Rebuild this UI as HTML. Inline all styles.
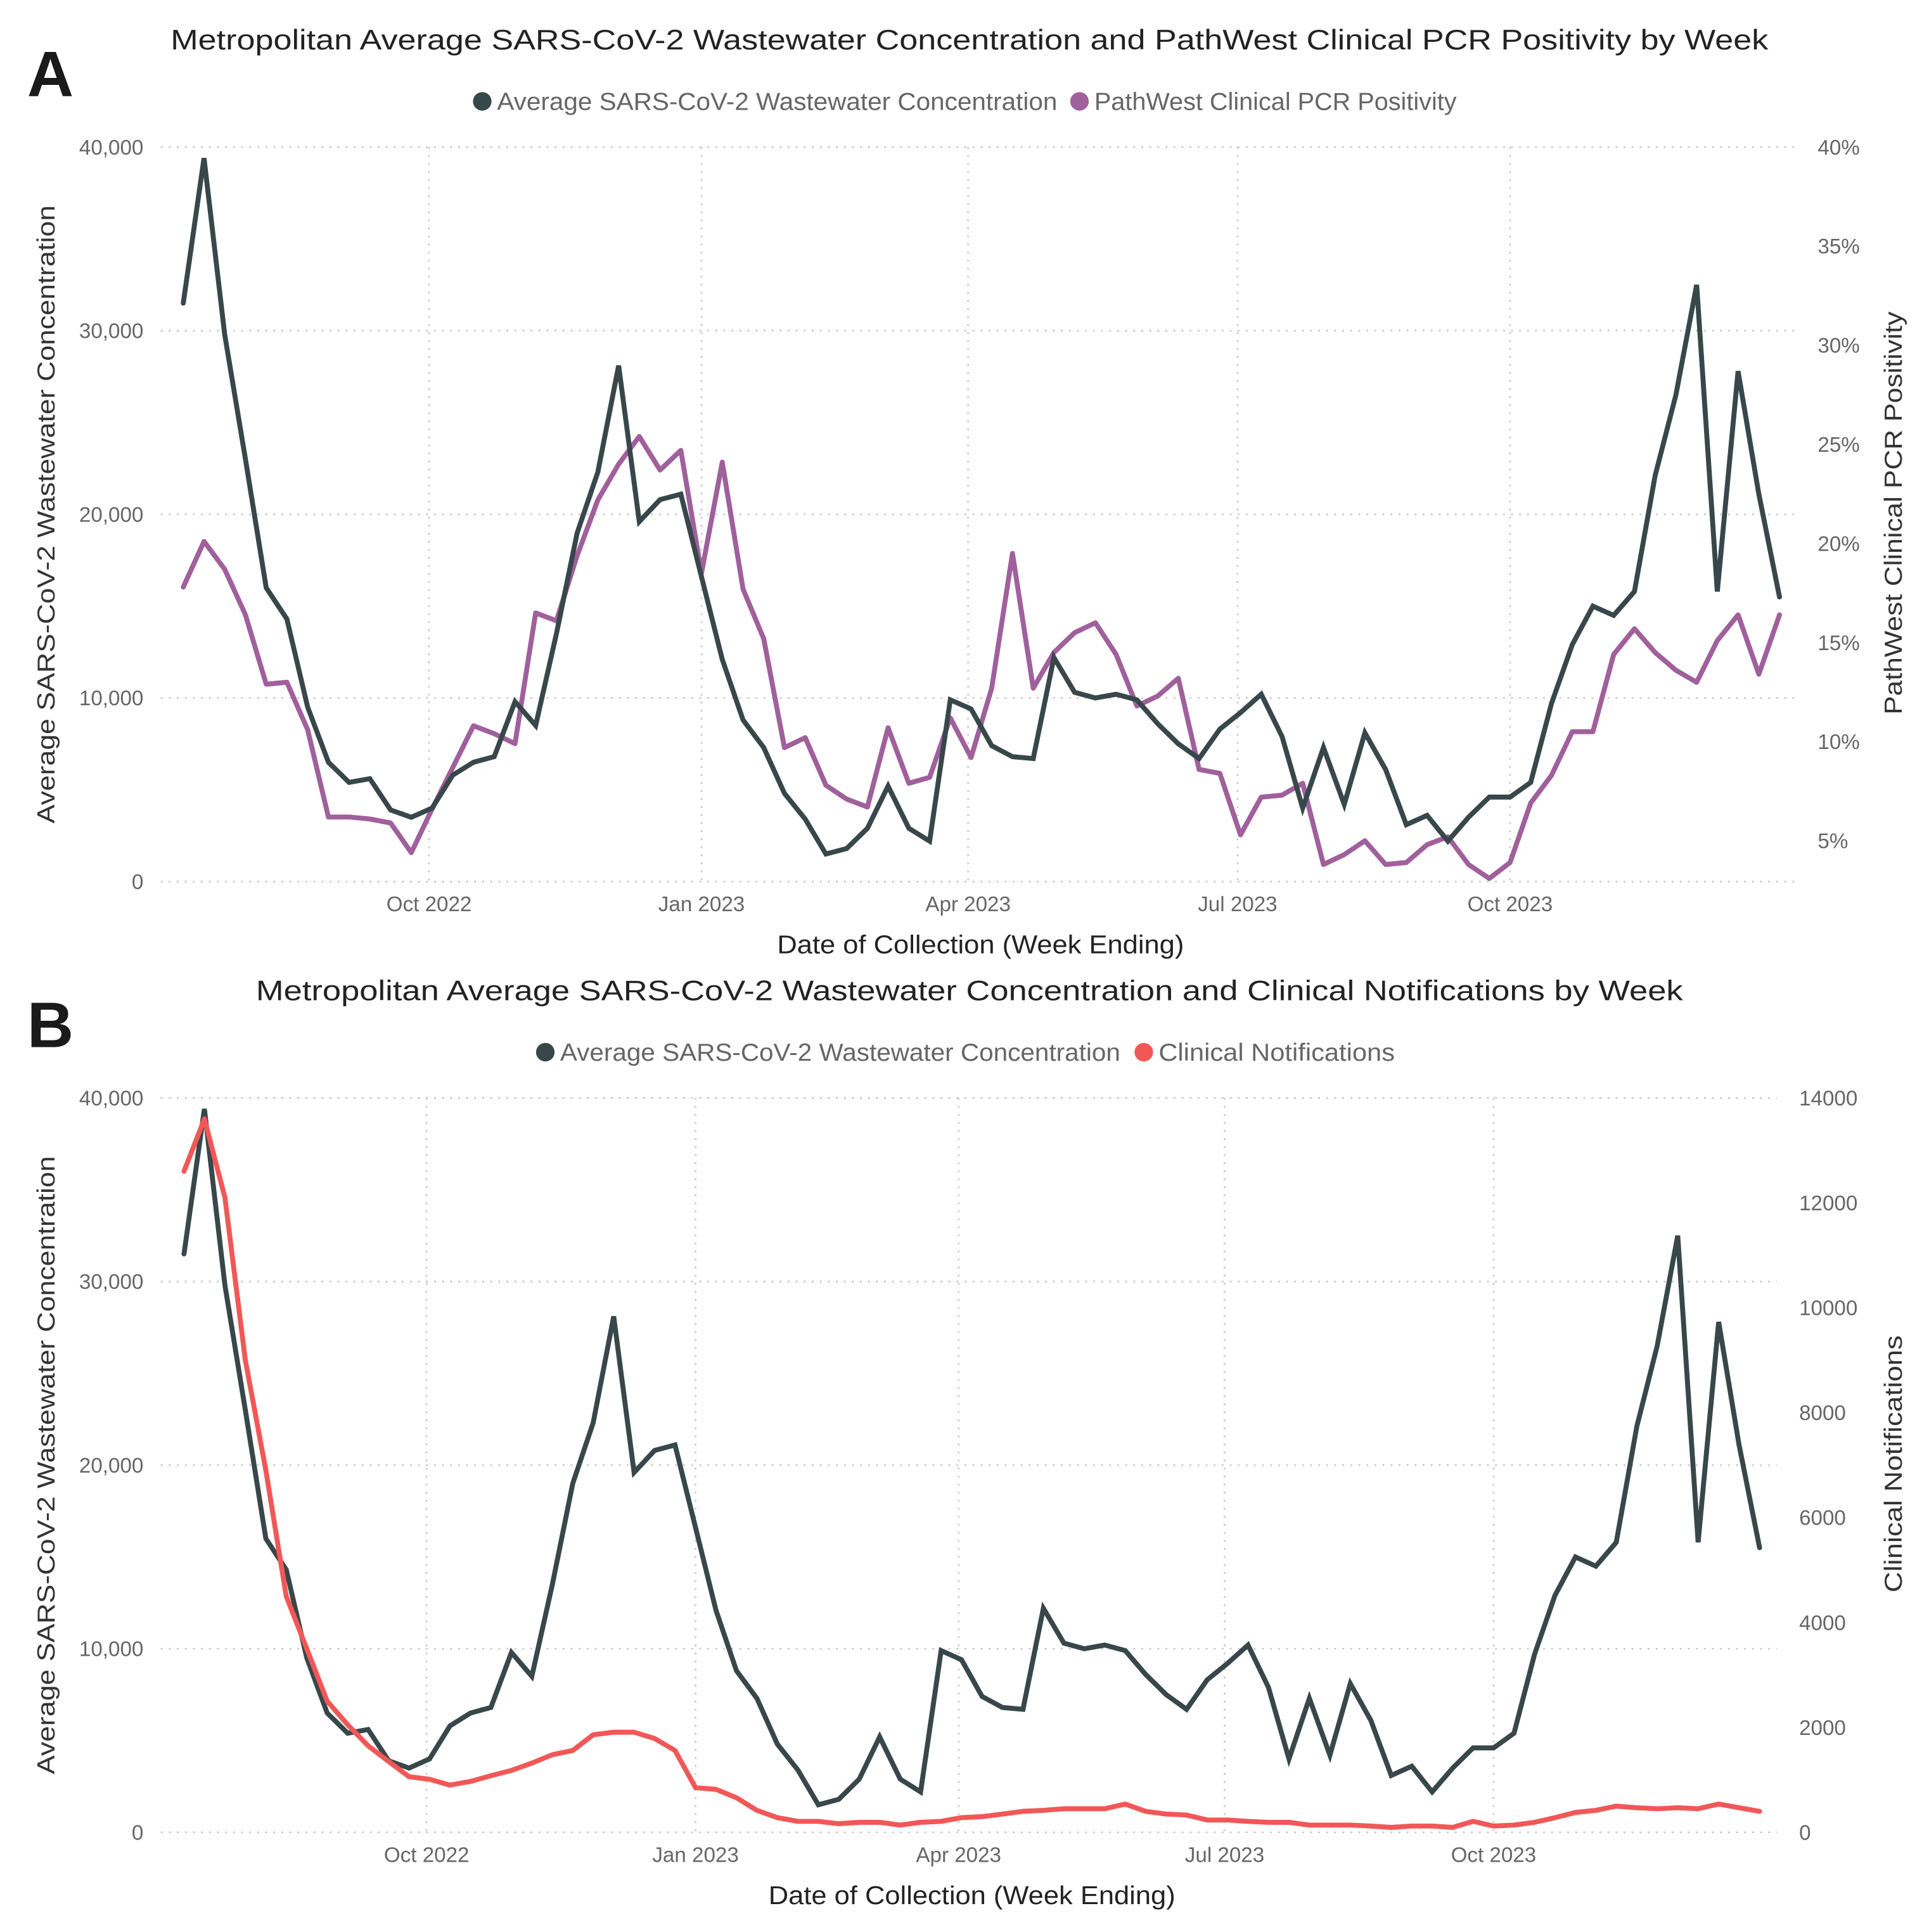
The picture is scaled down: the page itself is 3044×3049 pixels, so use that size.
<!DOCTYPE html>
<html><head><meta charset="utf-8"><style>
html,body{margin:0;padding:0;background:#fff;}
svg{display:block;}
text{font-family:"Liberation Sans",sans-serif;}
</style></head><body>
<svg id="root" xmlns="http://www.w3.org/2000/svg" width="3044" height="3049" viewBox="0 0 1560 1562.6" preserveAspectRatio="none"></svg>
<script>
// ---- data ----
const weekIndex = Array.from({length:78},(_,i)=>i); // weekly points
const firstDay = -83; // days relative to 1 Oct 2022
const wastewater = [31500,39400,29800,23000,16000,14300,9500,6500,5400,5600,3900,3500,4000,5800,6500,6800,9800,8500,13500,19000,22300,28100,19600,20800,21100,16600,12100,8800,7300,4800,3400,1500,1800,2900,5200,2900,2200,9900,9400,7400,6800,6700,12200,10300,10000,10200,9900,8600,7500,6700,8300,9200,10200,7900,4000,7300,4200,8100,6100,3100,3600,2200,3500,4600,4600,5400,9700,12900,15000,14500,15800,22100,26500,32500,15800,27800,21100,15500];
const pcrPositivity = [17.8,20.1,18.7,16.4,12.9,13.0,10.6,6.2,6.2,6.1,5.9,4.4,6.6,8.7,10.8,10.4,9.9,16.5,16.1,19.4,22.2,24.0,25.4,23.7,24.7,18.5,24.1,17.7,15.2,9.7,10.2,7.8,7.1,6.7,10.7,7.9,8.2,11.2,9.2,12.7,19.5,12.7,14.5,15.5,16.0,14.4,11.8,12.3,13.2,8.6,8.4,5.3,7.2,7.3,7.9,3.8,4.3,5.0,3.8,3.9,4.8,5.2,3.8,3.1,3.9,6.9,8.3,10.5,10.5,14.4,15.7,14.5,13.6,13.0,15.1,16.4,13.4,16.4];
const notifications = [12600,13600,12100,9000,6900,4500,3500,2500,2050,1650,1350,1060,1010,900,970,1080,1180,1320,1480,1560,1860,1910,1910,1790,1560,850,820,660,420,280,210,210,165,190,190,140,190,210,280,300,350,400,420,450,450,450,540,400,350,330,235,235,210,190,190,140,140,140,120,95,120,120,95,210,120,140,190,280,380,420,500,470,450,470,450,540,470,400];
const monthLabels = ["Oct 2022","Jan 2023","Apr 2023","Jul 2023","Oct 2023"];
const monthDays = [0,92,182,273,365];
const leftTicks = [0,10000,20000,30000,40000];
const leftTickLabels = ["0","10,000","20,000","30,000","40,000"];
const pctTicks = [5,10,15,20,25,30,35,40];
const notifTicks = [0,2000,4000,6000,8000,10000,12000,14000];

const NS="http://www.w3.org/2000/svg";
const root=document.getElementById('root');
function mk(tag,attrs,parent,txt){const e=document.createElementNS(NS,tag);for(const k in attrs)e.setAttribute(k,attrs[k]);if(txt!==undefined)e.textContent=txt;(parent||root).appendChild(e);return e;}

function panel(cfg){
  const g=mk('g',{});
  
  
  const x=d=>cfg.x0+d*cfg.xs;
  const yL=v=>cfg.yBase-v*cfg.yPx/40000;
  const yR=cfg.yR;
  // title
  const t=mk('text',{x:cfg.titleX,y:cfg.titleY,'font-size':23,fill:'#222',textLength:cfg.titleLen,lengthAdjust:'spacingAndGlyphs'},g,cfg.title);
  
  
  const L=mk('text',{x:22,y:cfg.titleY+38,'font-size':52,'font-weight':'bold',fill:'#1a1a1a'},g,cfg.letter);
  
  
  // legend
  const lc1=mk('circle',{cx:cfg.leg[0],cy:cfg.legY-7,r:7.5,fill:'#37474a'},g);
  
  
  const lt1=mk('text',{x:cfg.leg[0]+12,y:cfg.legY,'font-size':20,fill:'#666',textLength:453,lengthAdjust:'spacingAndGlyphs'},g,'Average SARS-CoV-2 Wastewater Concentration');
  
  
  const lc2=mk('circle',{cx:cfg.leg[1],cy:cfg.legY-7,r:7.5,fill:cfg.color2},g);
  
  
  const lt2=mk('text',{x:cfg.leg[1]+12,y:cfg.legY,'font-size':20,fill:'#666',textLength:cfg.leg2Len,lengthAdjust:'spacingAndGlyphs'},g,cfg.name2);
  
  
  // gridlines
  leftTicks.forEach((v,i)=>{
    const gl=mk('line',{x1:130,x2:cfg.gridR,y1:yL(v),y2:yL(v),stroke:'#c8c8c8','stroke-width':1.3,'stroke-dasharray':'1.5,5'},g);
    
    
    const tl=mk('text',{x:116,y:yL(v)+6,'font-size':17,fill:'#666','text-anchor':'end'},g,leftTickLabels[i]);
    
    
  });
  monthDays.forEach((d,i)=>{
    const vl=mk('line',{x1:x(d),x2:x(d),y1:yL(40000),y2:yL(0),stroke:'#c8c8c8','stroke-width':1.3,'stroke-dasharray':'1.5,5'},g);
    
    
    const ml=mk('text',{x:x(d),y:cfg.yBase+24,'font-size':17,fill:'#666','text-anchor':'middle'},g,monthLabels[i]);
    
    
  });
  cfg.rTicks.forEach(v=>{
    const rl=mk('text',{x:cfg.rTickX,y:yR(v)+6,'font-size':17,fill:'#666'},g,cfg.rFmt(v));
    
    
  });
  // axis titles
  const lm=(yL(0)+yL(40000))/2;
  const at=mk('text',{x:0,y:0,'font-size':20,fill:'#333','text-anchor':'middle',textLength:500,lengthAdjust:'spacingAndGlyphs',transform:`translate(44,${lm}) rotate(-90)`},g,'Average SARS-CoV-2 Wastewater Concentration');
  
  
  const rt=mk('text',{x:0,y:0,'font-size':20,fill:'#333','text-anchor':'middle',textLength:cfg.rTitleLen,lengthAdjust:'spacingAndGlyphs',transform:`translate(1538,${cfg.rTitleY}) rotate(-90)`},g,cfg.rTitle);
  
  
  const xt=mk('text',{x:cfg.xTitleX,y:cfg.yBase+58,'font-size':21,fill:'#222','text-anchor':'middle',textLength:329,lengthAdjust:'spacingAndGlyphs'},g,'Date of Collection (Week Ending)');
  
  
  // series
  const px=i=>x(firstDay+weekIndex[i]*7);
  const p1=wastewater.map((v,i)=>px(i).toFixed(1)+','+yL(v).toFixed(1)).join(' ');
  const p2=cfg.data2.map((v,i)=>px(i).toFixed(1)+','+yR(v).toFixed(1)).join(' ');
  const s2=mk('polyline',{points:p2,fill:'none',stroke:cfg.color2,'stroke-width':4,'stroke-linejoin':'round','stroke-linecap':'round'},g);
  
  
  const s1=mk('polyline',{points:p1,fill:'none',stroke:'#37474a','stroke-width':4,'stroke-linejoin':'miter','stroke-linecap':'round'},g);
  
  
  if(cfg.id2==='notifications'){g.appendChild(s2);}
}

panel({id:'a',letter:'A',title:'Metropolitan Average SARS-CoV-2 Wastewater Concentration and PathWest Clinical PCR Positivity by Week',
  titleX:138,titleY:40,titleLen:1292,leg:[390,873],legY:89,leg2Len:293,
  color2:'#a0609c',id2:'pcr-positivity',name2:'PathWest Clinical PCR Positivity',
  x0:347,xs:2.395,yBase:713,yPx:594,gridR:1452,
  yR:v=>680-(v-5)*16.03,rTicks:pctTicks,rFmt:v=>v+'%',rTickX:1470,
  rTitle:'PathWest Clinical PCR Positivity',rTitleLen:326,rTitleY:415,xTitleX:793,data2:pcrPositivity});
panel({id:'b',letter:'B',title:'Metropolitan Average SARS-CoV-2 Wastewater Concentration and Clinical Notifications by Week',
  titleX:207,titleY:809,titleLen:1154,leg:[441,925],legY:858,leg2Len:191,
  color2:'#f25757',id2:'notifications',name2:'Clinical Notifications',
  x0:345,xs:2.364,yBase:1482,yPx:594,gridR:1437,
  yR:v=>1482-v*594/14000,rTicks:notifTicks,rFmt:v=>String(v),rTickX:1455,
  rTitle:'Clinical Notifications',rTitleLen:208,rTitleY:1184,xTitleX:786,data2:notifications});
</script>
</body></html>
